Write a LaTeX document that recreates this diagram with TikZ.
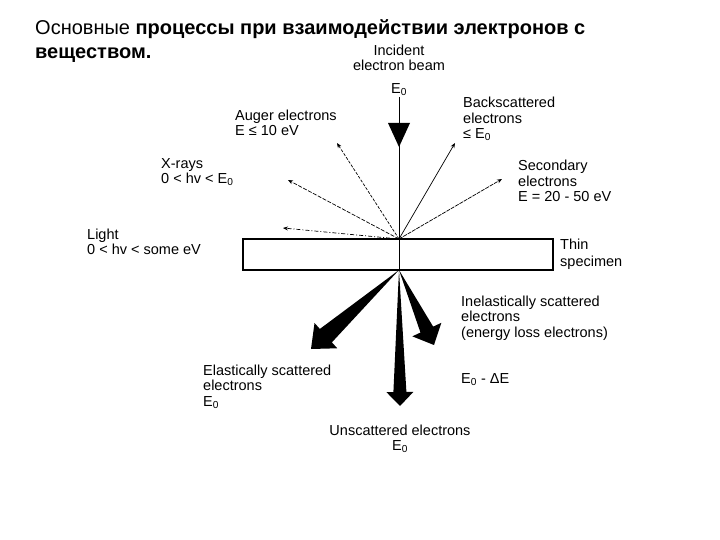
\documentclass[tikz,border=0pt]{standalone}
\usepackage{fontspec}
\setmainfont{Liberation Sans}
\usetikzlibrary{calc,arrows.meta}
\newcommand\wedgearrow[5]{%
  \coordinate (#2b) at ($(#2)!#3!(#1)$);
  \fill (#1) -- ($(#2b)!#5!90:(#2)$) -- ($(#2b)!#4!90:(#2)$) -- (#2)
    -- ($(#2b)!#4!-90:(#2)$) -- ($(#2b)!#5!-90:(#2)$) -- cycle;}
\begin{document}
\begin{tikzpicture}[x=1pt,y=-1pt,
  lbl/.style={anchor=north west, inner sep=0pt, align=left, font=\fontsize{14.5}{15.5}\selectfont},
  clbl/.style={lbl, anchor=north, align=center},
  ray/.style={line width=0.7pt, -{Stealth[length=5pt,width=4pt]}},
  dray/.style={ray, dash pattern=on 3pt off 1.5pt},
  ttl/.style={anchor=north west, inner sep=0pt, align=left, font=\fontsize{20}{21}\selectfont},
]
\useasboundingbox[fill=white] (0,0) rectangle (720,540);

% title
\node[ttl] (title) at (35,19.5) {\strut Основные \textbf{процессы при взаимодействии электронов с}\\[3pt]\textbf{веществом.}};

% labels
\node[clbl] (incident) at (399,44.2) {\strut Incident\\electron beam};
\node[clbl] (e0top) at (399,82) {\strut E\textsubscript{0}};
\node[lbl] (auger) at (235,109) {\strut Auger electrons\\E ≤ 10 eV};
\node[lbl] (back) at (463,96.5) {\strut Backscattered\\electrons\\≤ E\textsubscript{0}};
\node[lbl] (xray) at (161,157) {\strut X-rays\\0 < hv < E\textsubscript{0}};
\node[lbl] (second) at (518,159.5) {\strut Secondary\\electrons\\E = 20 - 50 eV};
\node[lbl] (light) at (87,228) {\strut Light\\0 < hv < some eV};
\node[lbl, font=\fontsize{14.5}{17}\selectfont] (thin) at (560,237) {\strut Thin\\specimen};
\node[lbl] (inel) at (461,295) {\strut Inelastically scattered\\electrons\\(energy loss electrons)};
\node[lbl] (el) at (203,364) {\strut Elastically scattered\\electrons\\E\textsubscript{0}};
\node[lbl] (eloss) at (461,372) {\strut E\textsubscript{0} - ΔE};
\node[clbl] (unsc) at (400,424) {\strut Unscattered electrons\\E\textsubscript{0}};

% specimen
\node[draw, line width=1.4pt, minimum width=310pt, minimum height=31pt, inner sep=0pt] (spec) at (398,254.5) {};

% key points
\coordinate (itop) at (399,97);
\coordinate (src) at (399,239);
\coordinate (bsrc) at (399,270);
\coordinate (lighttip) at (283,228);
\coordinate (xtip) at (288,180);
\coordinate (atip) at (337,143);
\coordinate (btip) at (455,143);
\coordinate (stip) at (502,179);
\coordinate (etip) at (311,349);
\coordinate (utip) at (400,406);
\coordinate (itip) at (434,345);

% incident beam
\draw[line width=0.8pt] (itop) -- (bsrc);
\fill (388,123) -- (410,123) -- (399,147) -- cycle;

% emitted signals
\draw[dray, dash pattern=on 4pt off 2pt on 1pt off 2pt] (src) -- (lighttip);
\draw[dray, dash pattern=on 4pt off 1.5pt] (src) -- (xtip);
\draw[dray] (src) -- (atip);
\draw[ray] (src) -- (btip);
\draw[dray, dash pattern=on 4pt off 1pt] (src) -- (stip);

% transmitted electrons
\wedgearrow{bsrc}{etip}{20pt}{17pt}{9pt}
\wedgearrow{bsrc}{utip}{14pt}{13.5pt}{6.5pt}
\wedgearrow{bsrc}{itip}{17pt}{16pt}{7pt}
\end{tikzpicture}
\end{document}
